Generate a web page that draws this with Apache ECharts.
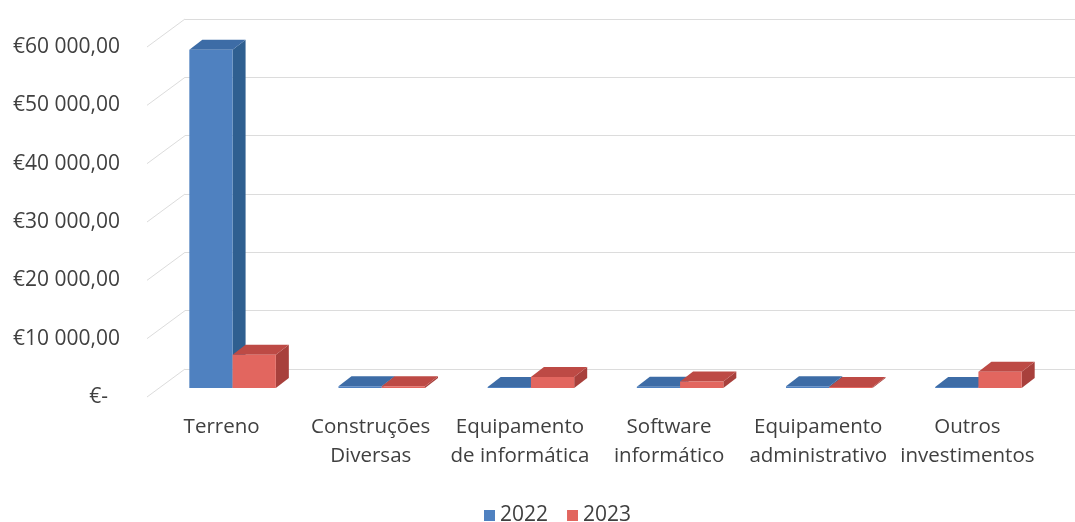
<!DOCTYPE html>
<html>
<head>
<meta charset="utf-8">
<script src="https://cdn.jsdelivr.net/npm/echarts@6/dist/echarts.min.js"></script>
<style>
  html, body { margin: 0; padding: 0; background: #fff; }
  #chart-wrapper { width: 1075px; height: 522px; }
</style>
</head>
<body>
<div id="chart-wrapper"></div>
<script>
const categories = ['Terreno', 'Construções\nDiversas', 'Equipamento\nde informática', 'Software\ninformático', 'Equipamento\nadministrativo', 'Outros\ninvestimentos']
const values2022 = [58000, 300, 100, 200, 300, 100]
const values2023 = [5700, 300, 1900, 1100, 150, 2800]
const tickValues = [0, 10000, 20000, 30000, 40000, 50000, 60000]
const seriesNames = ['2022', '2023']

const font = 'Open Sans'
const textColor = '#404040'
const gridColor = '#dcdcdc'

// 3d look: back wall offset and where the bars sit in depth
const wallDx = 38
const wallDy = -28
const frontDx = 11
const frontDy = -9
const depthDx = 13
const depthDy = -10

const faces = [
  { front: '#4f81c0', side: '#2f5f90', top: '#3d6ca6' },
  { front: '#e2665f', side: '#a8403c', top: '#bd4a45' }
]

const fmtEuro = v => {
  if (v === 0) return '{d|€-}'
  return '€' + String(v).replace(/\B(?=(\d{3})+(?!\d))/g, ' ') + ',00'
}

const makeBox = idx => (params, api) => {
  const i = api.value(0)
  const v = api.value(1)
  const base = api.coord([i, 0])
  const top = api.coord([i, v])
  const band = api.size([1, 0])[0]
  const w = band * 0.29
  const x0 = base[0] + (idx === 0 ? -w : 0) + frontDx
  const x1 = x0 + w
  const yb = base[1] + frontDy
  const yt = Math.min(top[1] + frontDy, yb - 1)
  const c = faces[idx]
  return {
    type: 'group',
    children: [
      {
        type: 'polygon',
        shape: { points: [[x1, yt], [x1 + depthDx, yt + depthDy], [x1 + depthDx, yb + depthDy], [x1, yb]] },
        style: { fill: c.side }
      },
      {
        type: 'polygon',
        shape: { points: [[x0, yt], [x1, yt], [x1 + depthDx, yt + depthDy], [x0 + depthDx, yt + depthDy]] },
        style: { fill: c.top }
      },
      {
        type: 'rect',
        shape: { x: x0, y: yt, width: w, height: yb - yt },
        style: { fill: c.front }
      }
    ]
  }
}

const sideWall = (params, api) => {
  const p = api.coord([0, api.value(1)])
  const band = api.size([1, 0])[0]
  const x = p[0] - band / 2
  return {
    type: 'line',
    shape: { x1: x, y1: p[1], x2: x + wallDx, y2: p[1] + wallDy },
    style: { stroke: gridColor, lineWidth: 1 }
  }
}

const chart = echarts.init(document.getElementById('chart-wrapper'))

chart.setOption({
  animation: false,
  backgroundColor: '#ffffff',
  textStyle: { fontFamily: font },
  legend: {
    data: seriesNames,
    top: 500,
    left: 479,
    icon: 'rect',
    itemWidth: 11,
    itemHeight: 11,
    itemGap: 19,
    textStyle: { fontFamily: font, fontSize: 21, color: textColor }
  },
  grid: [
    { left: 147, right: 33, top: 47, bottom: 125 },
    { left: 147 + wallDx, right: 33 - wallDx, top: 47 + wallDy, bottom: 125 - wallDy }
  ],
  xAxis: [
    {
      type: 'category',
      gridIndex: 0,
      data: categories,
      axisLine: { show: false },
      axisTick: { show: false },
      axisLabel: {
        interval: 0,
        margin: 16,
        fontFamily: font,
        fontSize: 20.5,
        lineHeight: 29,
        color: textColor
      }
    },
    {
      type: 'category',
      gridIndex: 1,
      data: categories,
      show: false
    }
  ],
  yAxis: [
    {
      type: 'value',
      gridIndex: 0,
      min: 0,
      max: 60000,
      interval: 10000,
      splitLine: { show: false },
      axisLine: { show: false },
      axisTick: { show: false },
      axisLabel: {
        margin: 27,
        fontFamily: font,
        fontSize: 21,
        color: textColor,
        formatter: fmtEuro,
        rich: { d: { padding: [0, 12, 0, 0], fontFamily: font, fontSize: 21, color: textColor } }
      }
    },
    {
      type: 'value',
      gridIndex: 1,
      min: 0,
      max: 60000,
      interval: 10000,
      axisLine: { show: false },
      axisTick: { show: false },
      axisLabel: { show: false },
      splitLine: { show: true, lineStyle: { color: gridColor, width: 1 } }
    }
  ],
  series: [
    {
      type: 'custom',
      silent: true,
      xAxisIndex: 0,
      yAxisIndex: 0,
      renderItem: sideWall,
      encode: { x: 0, y: 1 },
      data: tickValues.map(v => [0, v]),
      z: 1
    },
    {
      name: seriesNames[0],
      type: 'custom',
      xAxisIndex: 0,
      yAxisIndex: 0,
      itemStyle: { color: '#4f81c0' },
      renderItem: makeBox(0),
      encode: { x: 0, y: 1 },
      data: values2022.map((v, i) => [i, v]),
      z: 2
    },
    {
      name: seriesNames[1],
      type: 'custom',
      xAxisIndex: 0,
      yAxisIndex: 0,
      itemStyle: { color: '#e2665f' },
      renderItem: makeBox(1),
      encode: { x: 0, y: 1 },
      data: values2023.map((v, i) => [i, v]),
      z: 3
    }
  ]
})
</script>
</body>
</html>
